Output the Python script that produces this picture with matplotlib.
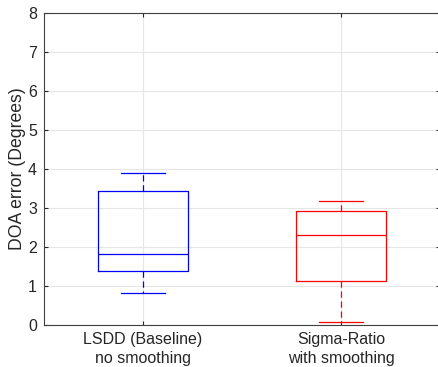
import numpy as np
import matplotlib
matplotlib.use("Agg")
import matplotlib.pyplot as plt

# box statistics (degrees)
labels = ["LSDD (Baseline)\nno smoothing", "Sigma-Ratio\nwith smoothing"]
colors = ["#0000ff", "#ff0000"]
whislo = [0.83, 0.07]
q1 = [1.39, 1.14]
med = [1.81, 2.31]
q3 = [3.44, 2.92]
whishi = [3.90, 3.17]

plt.rcParams["font.family"] = ["Liberation Sans", "DejaVu Sans"]

fig = plt.figure(figsize=(4.38, 3.67), dpi=100)
ax = fig.add_axes([44 / 438, 1 - 325 / 367, 396 / 438, 312 / 367])

stats = []
for i in range(len(labels)):
    stats.append({"med": med[i], "q1": q1[i], "q3": q3[i],
                  "whislo": whislo[i], "whishi": whishi[i],
                  "fliers": [], "label": labels[i]})

for i, s in enumerate(stats):
    c = colors[i]
    ax.bxp([s], positions=[i + 1], widths=0.45, showfliers=False,
           boxprops=dict(color=c, linewidth=0.9),
           medianprops=dict(color=c, linewidth=0.9),
           whiskerprops=dict(color=c, linewidth=0.9, linestyle=(0, (5, 3))),
           capprops=dict(color=c, linewidth=0.9),
           capwidths=0.22, manage_ticks=False)

ax.set_xlim(0.5, 2.5)
ax.set_ylim(0, 8)
ax.set_xticks([1, 2])
ax.set_xticklabels(labels, linespacing=1.3)
ax.set_yticks(range(0, 9))
ax.set_ylabel("DOA error (Degrees)", fontsize=12.7, color="#262626", labelpad=1.5)

ax.grid(True, color="#e6e6e6", linewidth=0.8)
ax.set_axisbelow(True)
for sp in ax.spines.values():
    sp.set_color("#404040")
    sp.set_linewidth(0.8)
ax.tick_params(direction="in", top=True, right=True, colors="#262626",
               length=3, width=0.8, labelsize=11.5)
ax.tick_params(axis="x", pad=5)
ax.tick_params(axis="y", pad=5)

fig.savefig("out.png", dpi=100)
